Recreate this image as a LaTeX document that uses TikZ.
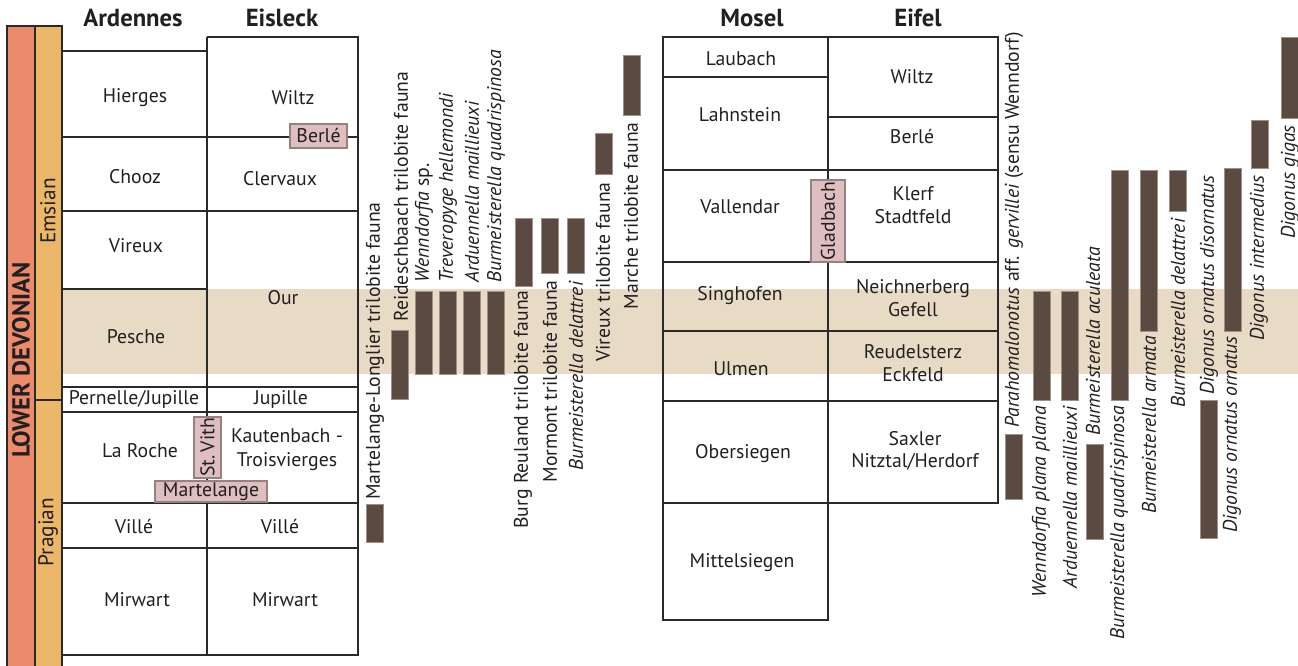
\documentclass[tikz,border=0pt]{standalone}
\usepackage{fontspec}
\setmainfont{PT Sans}
\definecolor{devc}{HTML}{EC8A6C}
\definecolor{stagec}{HTML}{ECB768}
\definecolor{bandc}{HTML}{E8DBC6}
\definecolor{barc}{HTML}{5B4A42}
\definecolor{barb}{HTML}{A09088}
\definecolor{tagc}{HTML}{DEBEBE}
\definecolor{tagb}{HTML}{948282}
\definecolor{linec}{HTML}{2A2A2A}
\definecolor{txt}{HTML}{231F20}
\newcommand{\lbfont}{\fontsize{14.8}{17}\selectfont}
\tikzset{
  lbl/.style={font=\lbfont, inner sep=0pt, text=txt, align=center},
  rl/.style={lbl, rotate=90},
  stg/.style={rotate=90, font=\fontsize{16}{18}\selectfont, inner sep=0pt, text=txt},
  hdr/.style={font=\fontsize{18.5}{20}\selectfont\bfseries, inner sep=0pt, text=txt},
  bar/.style={fill=barc, draw=barb, line width=0.5pt},
  tbl/.style={draw=linec, line width=1.4pt},
  tag/.style={lbl, fill=tagc, draw=tagb, line width=0.8pt},
  colbar/.style={draw=linec, line width=1.2pt}
}
\begin{document}
\begin{tikzpicture}[x=0.75pt, y=-0.75pt]
\useasboundingbox (0,0) rectangle (1298,666);
% band
\fill[bandc] (62,289) rectangle (1298,374);
% left stratigraphic bars
\fill[devc] (7,26) rectangle (35,666);
\fill[stagec] (35,26) rectangle (62,666);
\draw[colbar] (7,667) -- (7,26) -- (62,26) -- (62,667);
\draw[colbar] (35,26) -- (35,667);
\draw[colbar] (35,400) -- (62,400);
\node[rotate=90, font=\fontsize{18.5}{20}\selectfont\bfseries, text=txt, inner sep=0pt] (ld) at (21,360) {LOWER DEVONIAN};
\node[stg] (ems) at (48,211) {Emsian};
\node[stg] (pra) at (48,532) {Pragian};
% Ardennes / Eisleck table
\draw[tbl] (62,51) -- (207,51);
\draw[tbl] (207,37) -- (358,37) -- (358,655) -- (62,655);
\draw[tbl] (207,37) -- (207,655);
\draw[tbl] (62,137) -- (358,137);
\draw[tbl] (62,211) -- (358,211);
\draw[tbl] (62,289) -- (207,289);
\draw[tbl] (62,387) -- (358,387);
\draw[tbl] (62,412) -- (358,412);
\draw[tbl] (62,503) -- (358,503);
\draw[tbl] (62,548) -- (358,548);
\node[hdr] (hA) at (133,18) {Ardennes};
\node[hdr] (hE) at (282,18) {Eisleck};
\node[lbl] (c1) at (135,98) {Hierges};
\node[lbl] (c2) at (293,98) {Wiltz};
\node[lbl] (c3) at (135,177) {Chooz};
\node[lbl] (c4) at (280,179) {Clervaux};
\node[lbl] (c5) at (136,246) {Vireux};
\node[lbl] (c6) at (283,298) {Our};
\node[lbl] (c7) at (136,337) {Pesche};
\node[lbl] (c8) at (134,399) {Pernelle/Jupille};
\node[lbl] (c9) at (281,399) {Jupille};
\node[lbl] (c10) at (140,451) {La Roche};
\node[lbl] (c11) at (287,450) {Kautenbach -\\[1pt]Troisvierges};
\node[lbl] (c12) at (134,527) {Villé};
\node[lbl] (c13) at (280,527) {Villé};
\node[lbl] (c14) at (137,600) {Mirwart};
\node[lbl] (c15) at (285,600) {Mirwart};
\node[tag, minimum width=57*0.75pt, minimum height=24*0.75pt] (berle) at (318.5,136) {Berlé};
\node[tag, rotate=90, minimum width=61*0.75pt, minimum height=27*0.75pt] (stv) at (207.5,447.5) {St.\,Vith};
\node[tag, minimum width=112*0.75pt, minimum height=21*0.75pt] (mart) at (211,491.5) {Martelange};
% Mosel / Eifel table
\draw[tbl] (663,37) rectangle (998,503);
\draw[tbl] (663,503) -- (663,620) -- (828,620) -- (828,37);
\draw[tbl] (663,77) -- (828,77);
\draw[tbl] (828,117) -- (998,117);
\draw[tbl] (663,170) -- (998,170);
\draw[tbl] (663,262) -- (998,262);
\draw[tbl] (663,331) -- (998,331);
\draw[tbl] (663,401) -- (998,401);
\node[hdr] (hM) at (752,18) {Mosel};
\node[hdr] (hF) at (918,18) {Eifel};
\node[lbl] (m1) at (741,59) {Laubach};
\node[lbl] (m2) at (740,115) {Lahnstein};
\node[lbl] (m3) at (740,207) {Vallendar};
\node[lbl] (m4) at (740,296) {Singhofen};
\node[lbl] (m5) at (741,369) {Ulmen};
\node[lbl] (m6) at (743,454) {Obersiegen};
\node[lbl] (m7) at (742,563) {Mittelsiegen};
\node[lbl] (f1) at (912,77) {Wiltz};
\node[lbl] (f2) at (912,137) {Berlé};
\node[lbl] (f3) at (913,205) {Klerf\\Stadtfeld};
\node[lbl] (f4) at (913,298) {Neichnerberg\\Gefell};
\node[lbl] (f5) at (913,363) {Reudelsterz\\Eckfeld};
\node[lbl] (f6) at (915,451) {Saxler\\Nitztal/Herdorf};
\node[tag, rotate=90, minimum width=82*0.75pt, minimum height=34*0.75pt] (glad) at (828,221) {Gladbach};
% middle range bars
\draw[bar] (366,504) rectangle (383,542);
\draw[bar] (391,330) rectangle (408,399);
\draw[bar] (415,291) rectangle (432,374);
\draw[bar] (439,291) rectangle (456,374);
\draw[bar] (463,291) rectangle (480,374);
\draw[bar] (487,291) rectangle (504,374);
\draw[bar] (515,218) rectangle (532,286);
\draw[bar] (541,218) rectangle (558,273);
\draw[bar] (567,218) rectangle (584,273);
\draw[bar] (595,133) rectangle (612,174);
\draw[bar] (623,55) rectangle (640,115);
\node[rl, anchor=west] (t1) at (375,500) {Martelange-Longlier trilobite fauna};
\node[rl, anchor=west] (t2) at (401,322) {Reideschbaach trilobite fauna};
\node[rl, anchor=west] (t3) at (424,283) {\textit{Wenndorfia} sp.};
\node[rl, anchor=west] (t4) at (448,283) {\textit{Treveropyge hellemondi}};
\node[rl, anchor=west] (t5) at (472,283) {\textit{Arduennella maillieuxi}};
\node[rl, anchor=west] (t6) at (496,283) {\textit{Burmeisterella quadrispinosa}};
\node[rl, anchor=east] (t7) at (523,290) {Burg Reuland trilobite fauna};
\node[rl, anchor=east] (t8) at (550,280) {Mormont trilobite fauna};
\node[rl, anchor=east] (t9) at (576,281) {\textit{Burmeisterella delattrei}};
\node[rl, anchor=east] (t10) at (603,182) {Vireux trilobite fauna};
\node[rl, anchor=east] (t11) at (631,122) {Marche trilobite fauna};
% right range bars
\draw[bar] (1005,434) rectangle (1022,499);
\draw[bar] (1033,291) rectangle (1050,400);
\draw[bar] (1061,291) rectangle (1078,400);
\draw[bar] (1086,444) rectangle (1103,539);
\draw[bar] (1111,170) rectangle (1128,400);
\draw[bar] (1140,170) rectangle (1157,331);
\draw[bar] (1169,170) rectangle (1186,211);
\draw[bar] (1200,400) rectangle (1217,538);
\draw[bar] (1224,168) rectangle (1241,331);
\draw[bar] (1251,120) rectangle (1268,168);
\draw[bar] (1281,37) rectangle (1298,118);
\node[rl, anchor=west] (r1) at (1014,428) {\textit{Parahomalonotus} aff. \textit{gervillei} (sensu Wenndorf)};
\node[rl, anchor=east] (r2) at (1041,406) {\textit{Wenndorfia plana plana}};
\node[rl, anchor=east] (r3) at (1070,406) {\textit{Arduennella maillieuxi}};
\node[rl, anchor=west] (r4) at (1093,436) {\textit{Burmeisterella aculeata}};
\node[rl, anchor=east] (r5) at (1119,406) {\textit{Burmeisterella quadrispinosa}};
\node[rl, anchor=east] (r6) at (1149,336) {\textit{Burmeisterella armata}};
\node[rl, anchor=east] (r7) at (1178,218) {\textit{Burmeisterella delattrei}};
\node[rl, anchor=west] (r8) at (1209,395) {\textit{Digonus ornatus disornatus}};
\node[rl, anchor=east] (r9) at (1232,336) {\textit{Digonus ornatus ornatus}};
\node[rl, anchor=east] (r10) at (1259,175) {\textit{Digonus intermedius}};
\node[rl, anchor=east] (r11) at (1290,125) {\textit{Digonus gigas}};
\end{tikzpicture}
\end{document}
